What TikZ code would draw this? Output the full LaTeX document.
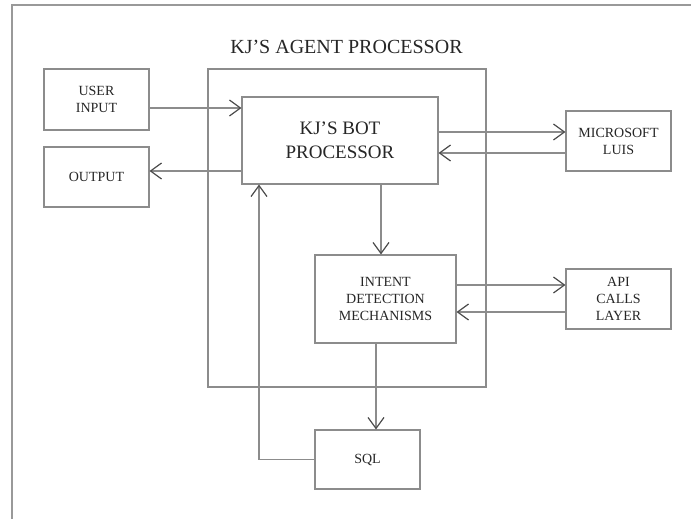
\documentclass[tikz,border=0pt]{standalone}
\usepackage{fontspec}
\setmainfont{Liberation Serif}
\usetikzlibrary{arrows.meta,positioning,calc}
\tikzset{
  box/.style={rectangle, draw=black!45, line width=1.1pt, text=black!85,
              align=center, inner sep=2pt, minimum width=105pt, minimum height=60pt,
              font=\fontsize{14}{17}\selectfont},
  flow/.style={-{Straight Barb[length=11pt, width=16pt, line width=1.2pt, color=black!70]},
               draw=black!45, line width=1.1pt},
}

\begin{document}
\begin{tikzpicture}[x=1pt,y=-1pt]
    \useasboundingbox (0,0) rectangle (691,519);
    \draw[black!40, line width=1.8pt] (691,5) -- (12,5) -- (12,519);
    \node[box, minimum width=278pt, minimum height=318pt] (agent) at (347,228) {};
    \node[text=black!85, font=\fontsize{20}{24}\selectfont] (title) at (346.5,47) {KJ'S AGENT PROCESSOR};
    \node[box, minimum width=196pt, minimum height=87pt, font=\fontsize{19}{24}\selectfont] (bot) at (340,140.5) {KJ'S BOT\\PROCESSOR};
    \node[box, minimum height=61pt] (user) at (96.5,99.5) {USER\\INPUT};
    \node[box] (output) at (96.5,177) {OUTPUT};
    \node[box] (luis) at (618.5,141) {MICROSOFT\\LUIS};
    \node[box, minimum width=141pt, minimum height=88pt] (intent) at (385.5,299) {INTENT\\DETECTION\\MECHANISMS};
    \node[box] (api) at (618.5,299) {API\\CALLS\\LAYER};
    \node[box, minimum height=59pt] (sql) at (367.5,459.5) {SQL};
    % connectors
    \draw[flow] ([yshift=-8.5pt]user.east) coordinate (u1) -- (u1 -| bot.west);
    \draw[flow] ([yshift=-30.5pt]bot.west) coordinate (o1) -- (o1 -| output.east);
    \draw[flow] ([yshift=8.5pt]bot.east) coordinate (l1) -- (l1 -| luis.west);
    \draw[flow] ([yshift=-12pt]luis.west) coordinate (l2) -- (l2 -| bot.east);
    \draw[flow] ([yshift=14pt]intent.east) coordinate (a1) -- (a1 -| api.west);
    \draw[flow] ([yshift=-13pt]api.west) coordinate (a2) -- (a2 -| intent.east);
    \draw[flow] ([xshift=41pt]bot.south) coordinate (b1) -- (b1 |- intent.north);
    \draw[flow] ([xshift=-9.5pt]intent.south) coordinate (i1) -- (i1 |- sql.north);
    \draw[flow] (sql.west) -| ([xshift=-81pt]bot.south);
\end{tikzpicture}
\end{document}
